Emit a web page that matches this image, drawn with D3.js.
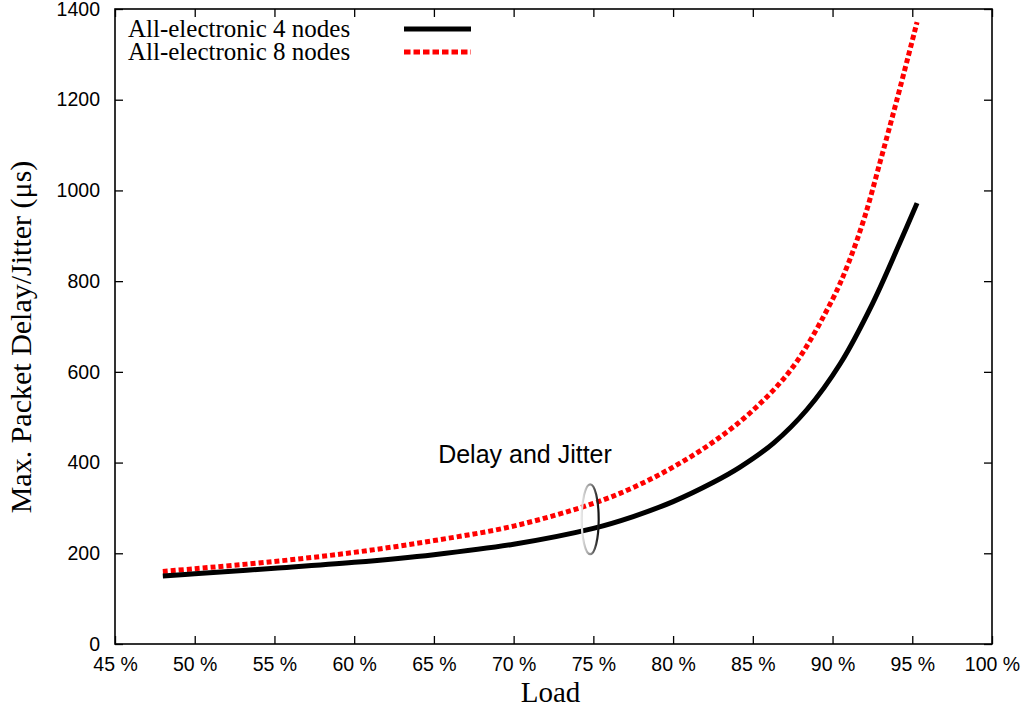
<!DOCTYPE html>
<html>
<head>
<meta charset="utf-8">
<script src="https://cdn.jsdelivr.net/npm/d3@7"></script>
<style>
  body { margin: 0; background: #fff; }
  svg { display: block; }
</style>
</head>
<body>
<div id="chart"></div>
<script>
// load (%) and max delay/jitter (us)
var loads4 = [48, 50, 55, 60, 65, 70, 75, 77.5, 80, 82.5, 84.2, 86.3, 88.4, 90.5, 92.5, 94.2, 95.3];
var delay4 = [150, 155, 167, 180, 197, 220, 255, 281, 314, 356, 390, 443, 517, 619, 750, 883, 972];
var loads8 = [48, 50, 55, 60, 65, 70, 75, 77.5, 80, 82.5, 85, 87.5, 90, 91, 92, 93, 94, 95.3];
var delay8 = [160, 166, 182, 202, 228, 260, 310, 345, 390, 445, 515, 610, 760, 840, 940, 1065, 1195, 1371];
var xTicks = [45, 50, 55, 60, 65, 70, 75, 80, 85, 90, 95, 100];
var yTicks = [0, 200, 400, 600, 800, 1000, 1200, 1400];
var seriesNames = ["All-electronic 4 nodes", "All-electronic 8 nodes"];

var W = 1025, H = 713;
var margin = {top: 9, right: 33, bottom: 69, left: 115};
var width = W - margin.left - margin.right,
    height = H - margin.top - margin.bottom;

var svg = d3.select("#chart").append("svg")
    .attr("width", W).attr("height", H);

var defs = svg.append("defs");
var grad = defs.append("linearGradient").attr("id", "ringGrad")
    .attr("x1", "0%").attr("y1", "0%").attr("x2", "100%").attr("y2", "0%");
grad.append("stop").attr("offset", "0%").attr("stop-color", "#e6e6e6");
grad.append("stop").attr("offset", "55%").attr("stop-color", "#888");
grad.append("stop").attr("offset", "100%").attr("stop-color", "#111");

var g = svg.append("g")
    .attr("transform", "translate(" + margin.left + "," + margin.top + ")");

var x = d3.scaleLinear().domain([45, 100]).range([0, width]);
var y = d3.scaleLinear().domain([0, 1400]).range([height, 0]);

var tickFont = "'Liberation Sans', Arial, sans-serif";
var serif = "'Liberation Serif', 'Times New Roman', serif";

// inward ticks on all four sides, gnuplot style
function styleAxis(sel) {
    sel.select(".domain").remove();
    sel.selectAll(".tick line").attr("stroke", "#000").attr("stroke-width", 1.3);
    sel.selectAll(".tick text").attr("font-family", tickFont).attr("font-size", 19.5).attr("fill", "#000");
}

g.append("g").attr("transform", "translate(0," + height + ")")
    .call(d3.axisBottom(x).tickValues(xTicks).tickSize(-8).tickPadding(13)
        .tickFormat(function(d) { return d + " %"; }))
    .call(styleAxis);
g.append("g")
    .call(d3.axisTop(x).tickValues(xTicks).tickSize(-8).tickFormat(""))
    .call(styleAxis);
g.append("g")
    .call(d3.axisLeft(y).tickValues(yTicks).tickSize(-8).tickPadding(15)
        .tickFormat(d3.format("d")))
    .call(styleAxis);
g.append("g").attr("transform", "translate(" + width + ",0)")
    .call(d3.axisRight(y).tickValues(yTicks).tickSize(-8).tickFormat(""))
    .call(styleAxis);

g.append("rect")
    .attr("width", width).attr("height", height)
    .attr("fill", "none").attr("stroke", "#000").attr("stroke-width", 1.6);

var line = d3.line()
    .x(function(d) { return x(d[0]); })
    .y(function(d) { return y(d[1]); })
    .curve(d3.curveCatmullRom.alpha(0.5));

var data4 = loads4.map(function(l, i) { return [l, delay4[i]]; });
var data8 = loads8.map(function(l, i) { return [l, delay8[i]]; });

g.append("path").datum(data8)
    .attr("d", line).attr("fill", "none")
    .attr("stroke", "#ff0000").attr("stroke-width", 5)
    .attr("stroke-dasharray", "5,3");

g.append("path").datum(data4)
    .attr("d", line).attr("fill", "none")
    .attr("stroke", "#000").attr("stroke-width", 5);

// ring marking delay and jitter
g.append("ellipse")
    .attr("cx", x(74.8)).attr("cy", y(275))
    .attr("rx", 8.5).attr("ry", y(0) - y(77))
    .attr("fill", "none").attr("stroke", "url(#ringGrad)").attr("stroke-width", 2.2);

g.append("text")
    .attr("x", 525 - margin.left).attr("y", 463 - margin.top)
    .attr("text-anchor", "middle")
    .attr("font-family", tickFont).attr("font-size", 25)
    .text("Delay and Jitter");

// legend
var legend = g.append("g");
seriesNames.forEach(function(name, i) {
    var ly = 20 + i * 23;
    legend.append("text")
        .attr("x", 13).attr("y", ly + 8)
        .attr("font-family", serif).attr("font-size", 25)
        .text(name);
    legend.append("line")
        .attr("x1", 289).attr("x2", 356)
        .attr("y1", ly).attr("y2", ly)
        .attr("stroke", i === 0 ? "#000" : "#ff0000")
        .attr("stroke-width", 5)
        .attr("stroke-dasharray", i === 0 ? null : "6.5,3");
});

// axis titles
svg.append("text")
    .attr("x", margin.left + width / 2 - 3).attr("y", 702)
    .attr("text-anchor", "middle")
    .attr("font-family", serif).attr("font-size", 29)
    .text("Load");

svg.append("text")
    .attr("transform", "translate(31,337) rotate(-90)")
    .attr("text-anchor", "middle")
    .attr("font-family", serif).attr("font-size", 30)
    .text("Max. Packet Delay/Jitter (μs)");
</script>
</body>
</html>
